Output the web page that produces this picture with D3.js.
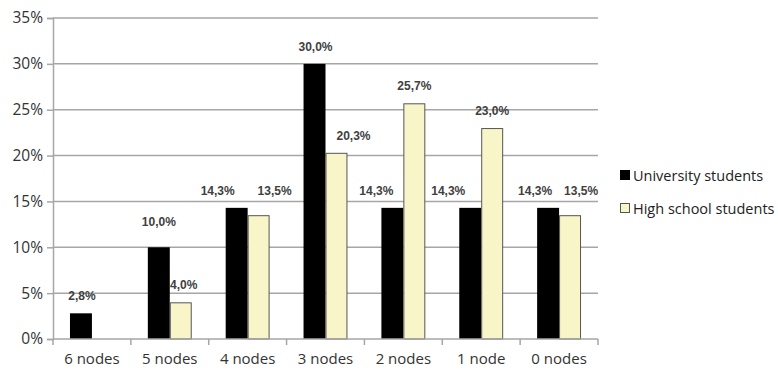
<!DOCTYPE html>
<html>
<head>
<meta charset="utf-8">
<script src="https://cdn.jsdelivr.net/npm/d3@7"></script>
<style>
  body { margin: 0; background: #fff; }
</style>
</head>
<body>
<div id="chart"></div>
<script>
const categories = ["6 nodes", "5 nodes", "4 nodes", "3 nodes", "2 nodes", "1 node", "0 nodes"];
const seriesNames = ["University students", "High school students"];
const university = [2.8, 10.0, 14.3, 30.0, 14.3, 14.3, 14.3];
const highSchool = [null, 4.0, 13.5, 20.3, 25.7, 23.0, 13.5];
const yTicks = [0, 5, 10, 15, 20, 25, 30, 35];

// label nudges (dx, dy) the way the original spreads them apart
const uniNudge = [[1, 0], [0, -8], [-19, 0], [1, 0], [-16, 0], [-22, 0], [-13, 0]];
const hsNudge = [[0, 0], [3, 0], [16, -7], [17, 0], [0, 0], [0, 0], [11, -7]];

const width = 778, height = 370;
const margin = { top: 18, right: 180, bottom: 31, left: 53 };
const colors = ["#000000", "#f8f6c8"];

const svg = d3.select("#chart")
  .append("svg")
  .attr("width", width)
  .attr("height", height);

const x0 = d3.scaleBand()
  .domain(categories)
  .range([margin.left, width - margin.right])
  .paddingInner(0.436)
  .paddingOuter(0.218);

const x1 = d3.scaleBand()
  .domain(seriesNames)
  .range([0, x0.bandwidth()]);

const y = d3.scaleLinear()
  .domain([0, 35])
  .range([height - margin.bottom, margin.top]);

const gridColor = "#a6a6a6";

// gridlines
svg.append("g")
  .selectAll("line")
  .data(yTicks.slice(1))
  .enter()
  .append("line")
  .attr("x1", margin.left)
  .attr("x2", width - margin.right)
  .attr("y1", d => y(d))
  .attr("y2", d => y(d))
  .attr("stroke", gridColor)
  .attr("stroke-width", 1.5);

// y axis
const yAxis = svg.append("g")
  .attr("transform", `translate(${margin.left},0)`)
  .call(d3.axisLeft(y).tickValues(yTicks).tickSize(6).tickPadding(4).tickFormat(d => d + "%"));
yAxis.select(".domain").attr("stroke", gridColor).attr("stroke-width", 1.5);
yAxis.selectAll(".tick line").attr("stroke", gridColor).attr("stroke-width", 1.5);
yAxis.selectAll("text")
  .attr("font-family", "'Open Sans', sans-serif")
  .attr("font-size", "15.5px")
  .attr("fill", "#333");

// bars
const rows = categories.map((c, i) => ({ cat: c, i: i, values: [university[i], highSchool[i]] }));

const groups = svg.append("g")
  .selectAll("g")
  .data(rows)
  .enter()
  .append("g")
  .attr("transform", d => `translate(${x0(d.cat)},0)`);

groups.selectAll("rect")
  .data(d => d.values.map((v, k) => ({ key: seriesNames[k], k: k, v: v })).filter(e => e.v != null))
  .enter()
  .append("rect")
  .attr("x", d => x1(d.key) + (d.k === 1 ? 0.5 : 0))
  .attr("y", d => y(d.v) + (d.k === 1 ? 0.5 : 0))
  .attr("width", d => x1.bandwidth() - (d.k === 1 ? 1 : 0))
  .attr("height", d => y(0) - y(d.v) - (d.k === 1 ? 0.5 : 0))
  .attr("fill", d => colors[d.k])
  .attr("stroke", d => d.k === 1 ? "#555" : "none")
  .attr("stroke-width", 1);

// x axis line and boundary ticks
const step = x0.step();
const edgeOffset = step * x0.paddingInner() / 2;
const xBase = y(0);
svg.append("line")
  .attr("x1", margin.left)
  .attr("x2", width - margin.right)
  .attr("y1", xBase)
  .attr("y2", xBase)
  .attr("stroke", gridColor)
  .attr("stroke-width", 1.5);

svg.append("g")
  .selectAll("line")
  .data(categories.concat(["end"]))
  .enter()
  .append("line")
  .attr("x1", (d, i) => i < categories.length ? x0(d) - edgeOffset : x0(categories[i - 1]) + x0.bandwidth() + edgeOffset)
  .attr("x2", (d, i) => i < categories.length ? x0(d) - edgeOffset : x0(categories[i - 1]) + x0.bandwidth() + edgeOffset)
  .attr("y1", xBase)
  .attr("y2", xBase + 6)
  .attr("stroke", gridColor)
  .attr("stroke-width", 1.5);

svg.append("g")
  .selectAll("text")
  .data(categories)
  .enter()
  .append("text")
  .attr("x", d => x0(d) + x0.bandwidth() / 2)
  .attr("y", height - 6)
  .attr("text-anchor", "middle")
  .attr("font-family", "'Open Sans', sans-serif")
  .attr("font-size", "15px")
  .attr("fill", "#333")
  .text(d => d);

// value labels
const fmt = v => v.toFixed(1).replace(".", ",") + "%";
const labels = [];
rows.forEach(r => {
  r.values.forEach((v, k) => {
    if (v == null) return;
    const n = k === 0 ? uniNudge[r.i] : hsNudge[r.i];
    labels.push({
      x: x0(r.cat) + x1(seriesNames[k]) + x1.bandwidth() / 2 + n[0],
      y: y(v) - 13 + n[1],
      t: fmt(v)
    });
  });
});

svg.append("g")
  .selectAll("text")
  .data(labels)
  .enter()
  .append("text")
  .attr("x", d => d.x)
  .attr("y", d => d.y)
  .attr("text-anchor", "middle")
  .attr("font-family", "'Liberation Sans', Arial, sans-serif")
  .attr("font-weight", "bold")
  .attr("font-size", "12px")
  .attr("fill", "#404040")
  .text(d => d.t);

// legend
const legend = svg.append("g")
  .attr("transform", `translate(620,170)`);

const li = legend.selectAll("g")
  .data(seriesNames)
  .enter()
  .append("g")
  .attr("transform", (d, i) => `translate(0,${i * 33})`);

li.append("rect")
  .attr("x", 0.5)
  .attr("y", 0.5)
  .attr("width", 9)
  .attr("height", 9)
  .attr("fill", (d, i) => colors[i])
  .attr("stroke", (d, i) => i === 1 ? "#555" : "#000");

li.append("text")
  .attr("x", 13)
  .attr("y", 10.5)
  .attr("font-family", "'Open Sans', sans-serif")
  .attr("font-size", "14.5px")
  .attr("fill", "#222")
  .text(d => d);
</script>
</body>
</html>
